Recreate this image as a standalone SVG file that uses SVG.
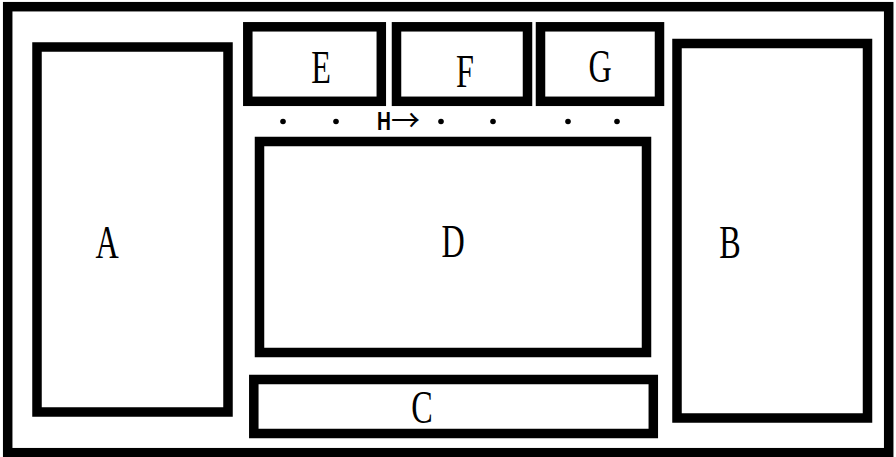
<svg xmlns="http://www.w3.org/2000/svg" width="896" height="457" viewBox="0 0 896 457">
<style>
.box{fill:#fff;stroke:#000;stroke-width:9.5}
.lbl{font-family:"Liberation Serif","DejaVu Serif",serif;font-size:46px;fill:#000;text-anchor:middle}
.dot{fill:#000}
.h{font-family:"Liberation Sans","DejaVu Sans",sans-serif;font-size:26px;font-weight:bold;fill:#000}
.arr{font-family:"Noto Sans CJK SC","DejaVu Sans",sans-serif;font-size:30px;fill:#000}
</style>
<rect width="896" height="457" fill="#fff"/>
<g id="frame"><rect class="box" x="7.7" y="6.7" width="881" height="446"/></g>
<g id="A"><rect class="box" x="37" y="47" width="191" height="365"/><text class="lbl" transform="translate(107,258) scale(0.7,1)">A</text></g>
<g id="B"><rect class="box" x="677" y="43.5" width="190.5" height="374.5"/><text class="lbl" transform="translate(730,258) scale(0.7,1)">B</text></g>
<g id="C"><rect class="box" x="253.8" y="379.5" width="399.5" height="54"/><text class="lbl" transform="translate(422,423) scale(0.7,1)">C</text></g>
<g id="D"><rect class="box" x="259.5" y="141.5" width="387" height="211"/><text class="lbl" transform="translate(453,257) scale(0.7,1)">D</text></g>
<g id="E"><rect class="box" x="247.8" y="26.8" width="133.5" height="74.5"/><text class="lbl" transform="translate(321,83) scale(0.7,1)">E</text></g>
<g id="F"><rect class="box" x="396.5" y="26.8" width="131" height="74.5"/><text class="lbl" transform="translate(465,87) scale(0.7,1)">F</text></g>
<g id="G"><rect class="box" x="540.5" y="26.8" width="119" height="74.5"/><text class="lbl" transform="translate(600,82) scale(0.7,1)">G</text></g>
<g id="connectors">
<circle class="dot" cx="283" cy="121.5" r="2.8"/>
<circle class="dot" cx="336" cy="121.5" r="2.8"/>
<circle class="dot" cx="441" cy="121.5" r="2.8"/>
<circle class="dot" cx="493" cy="121.5" r="2.8"/>
<circle class="dot" cx="568" cy="121.5" r="2.8"/>
<circle class="dot" cx="617" cy="121.5" r="2.8"/>
</g>
<g id="H">
<text class="h" transform="translate(377,130) scale(0.74,1)">H</text>
<text class="arr" x="391" y="131" textLength="29" lengthAdjust="spacingAndGlyphs">→</text>
</g>
</svg>
